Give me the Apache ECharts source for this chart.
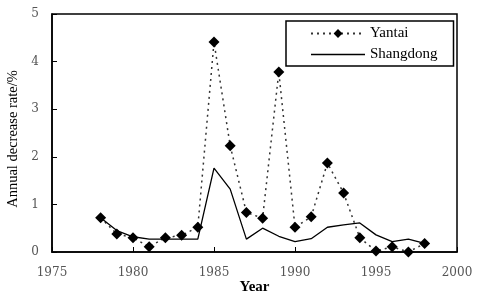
<!DOCTYPE html>
<html>
<head>
<meta charset="utf-8">
<script src="https://cdn.jsdelivr.net/npm/echarts@6/dist/echarts.min.js"></script>
<style>
  html, body { margin: 0; padding: 0; background: #fff; }
  #chart { width: 481px; height: 292px; }
</style>
</head>
<body>
<div id="chart"></div>
<script>
// data
const years = [1978, 1979, 1980, 1981, 1982, 1983, 1984, 1985, 1986, 1987, 1988,
  1989, 1990, 1991, 1992, 1993, 1994, 1995, 1996, 1997, 1998];
const yantai = [0.72, 0.38, 0.30, 0.11, 0.30, 0.35, 0.52, 4.41, 2.23, 0.83, 0.71,
  3.78, 0.52, 0.74, 1.87, 1.24, 0.30, 0.02, 0.11, 0.00, 0.18];
const shandong = [0.72, 0.45, 0.32, 0.27, 0.27, 0.27, 0.27, 1.76, 1.32, 0.27, 0.50,
  0.33, 0.22, 0.28, 0.52, 0.57, 0.61, 0.36, 0.22, 0.27, 0.18];

const serif = '"Liberation Serif", "DejaVu Serif", serif';
const tickFont = '"DejaVu Serif", serif';

const chart = echarts.init(document.getElementById('chart'));
chart.setOption({
  animation: false,
  backgroundColor: '#fff',
  grid: {
    left: 52, right: 24, top: 14, bottom: 40,
    containLabel: false,
    outerBoundsMode: 'none',
    show: true, borderColor: '#000', borderWidth: 1.5
  },
  legend: {
    orient: 'vertical',
    left: 286, top: 21,
    width: 166,
    padding: [5, 16, 4, 24],
    itemGap: 6,
    itemWidth: 54,
    itemHeight: 11,
    borderColor: '#000',
    borderWidth: 1.5,
    textStyle: { fontFamily: serif, fontSize: 15, color: '#000' },
    data: [
      'Yantai',
      { name: 'Shangdong', icon: 'path://M0,0 L54,0 L54,1.3 L0,1.3 Z' }
    ]
  },
  xAxis: {
    type: 'value',
    min: 1975, max: 2000, interval: 5,
    name: 'Year',
    nameLocation: 'middle',
    nameGap: 28,
    nameMoveOverlap: false,
    nameTextStyle: { fontFamily: serif, fontSize: 15, fontWeight: 'bold', color: '#000' },
    axisLine: { lineStyle: { color: '#000', width: 1.5 } },
    axisTick: { inside: true, length: 5, lineStyle: { color: '#000' } },
    axisLabel: { fontFamily: tickFont, fontSize: 12, color: '#555', margin: 15,
      formatter: v => String(v) },
    splitLine: { show: false }
  },
  yAxis: {
    type: 'value',
    min: 0, max: 5, interval: 1,
    name: 'Annual decrease rate/%',
    nameLocation: 'middle',
    nameGap: 31,
    nameMoveOverlap: false,
    nameTextStyle: { fontFamily: serif, fontSize: 14.5, color: '#000', padding: [0, 12, 0, 0] },
    axisLine: { lineStyle: { color: '#000', width: 1.5 } },
    axisTick: { inside: true, length: 5, lineStyle: { color: '#000' } },
    axisLabel: { fontFamily: tickFont, fontSize: 12, color: '#555', margin: 13 },
    splitLine: { show: false }
  },
  series: [
    {
      name: 'Yantai',
      type: 'line',
      data: years.map((y, i) => [y, yantai[i]]),
      symbol: 'diamond',
      symbolSize: 11,
      itemStyle: { color: '#000' },
      lineStyle: { color: '#333', width: 1.5, type: [2, 4] }
    },
    {
      name: 'Shangdong',
      type: 'line',
      data: years.map((y, i) => [y, shandong[i]]),
      symbol: 'none',
      itemStyle: { color: '#000' },
      lineStyle: { color: '#000', width: 1.3 }
    }
  ]
});
</script>
</body>
</html>
